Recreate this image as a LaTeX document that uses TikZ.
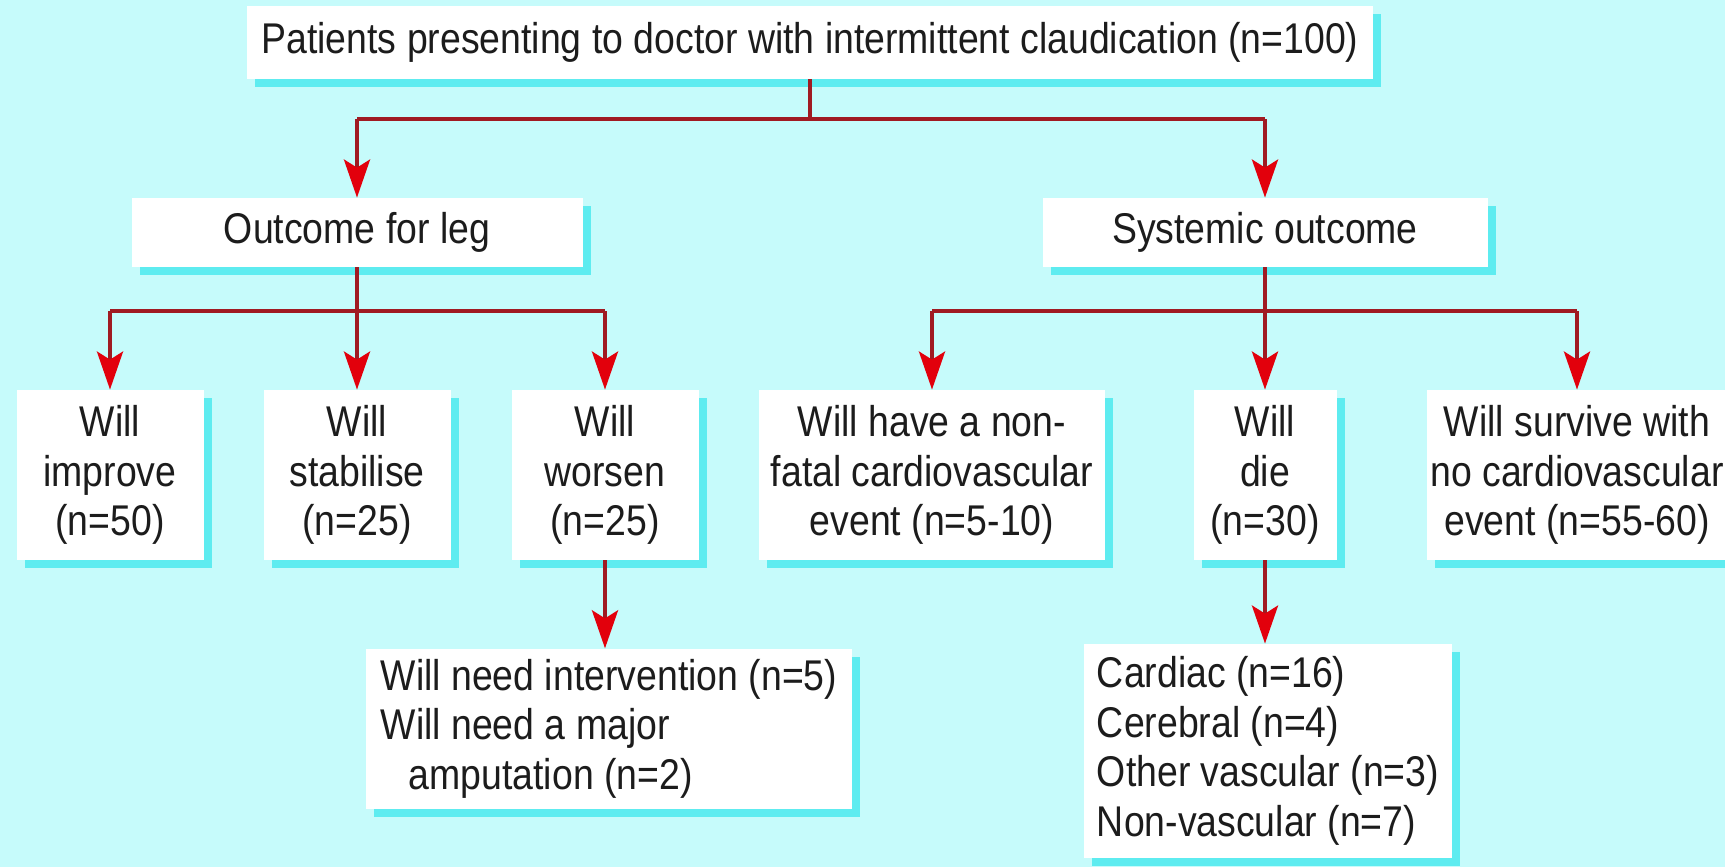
\documentclass[tikz,border=0pt]{standalone}
\usepackage{fontspec}
\setmainfont[FakeStretch=0.87]{Liberation Sans}
\usetikzlibrary{shadows,arrows.meta}
\definecolor{bgc}{RGB}{198,251,251}
\definecolor{shc}{RGB}{94,236,240}
\definecolor{linec}{RGB}{160,26,34}
\definecolor{arrowred}{RGB}{226,0,12}
\definecolor{txt}{RGB}{28,28,28}
\tikzset{
  box/.style={fill=white, draw=none, inner sep=0pt, align=center, text=txt,
    font=\fontsize{21.5}{24.75}\selectfont,
    drop shadow={shadow xshift=4pt, shadow yshift=-4pt, fill=shc, opacity=1}},
  conn/.style={draw=linec, line width=2pt},
  arr/.style={conn, -{Stealth[length=19pt,width=13pt,inset=4pt,color=arrowred]}}
}
\begin{document}
\begin{tikzpicture}[x=0.5pt,y=-0.5pt]
\useasboundingbox (0,0) rectangle (1725,867);
\fill[bgc] (0,0) rectangle (1725,867);

\node[box, minimum width=563pt, minimum height=36.5pt] (top) at (810,42.5)
  {Patients presenting to doctor with intermittent claudication (n=100)};
\node[box, minimum width=225.5pt, minimum height=34.5pt] (leg) at (357,232.5) {Outcome for leg};
\node[box, minimum width=222.5pt, minimum height=34.5pt] (sys) at (1265,232.5) {Systemic outcome};

\node[box, minimum width=93.5pt, minimum height=85pt] (improve) at (110,475) {Will\\improve\\(n=50)};
\node[box, minimum width=93.5pt, minimum height=85pt] (stab) at (357,475) {Will\\stabilise\\(n=25)};
\node[box, minimum width=93.5pt, minimum height=85pt] (worsen) at (605,475) {Will\\worsen\\(n=25)};
\node[box, minimum width=173pt, minimum height=85pt] (nonfatal) at (932,475) {Will have a non-\\fatal cardiovascular\\event (n=5-10)};
\node[box, minimum width=71.5pt, minimum height=85pt] (die) at (1265,475) {Will\\die\\(n=30)};
\node[box, minimum width=150pt, minimum height=85pt] (survive) at (1577,475) {Will survive with\\no cardiovascular\\event (n=55-60)};

\node[box, align=left, minimum width=243pt, minimum height=80pt] (interv) at (609,728.75)
  {Will need intervention (n=5)\\Will need a major\\\hspace*{14pt}amputation (n=2)};
\node[box, align=left, minimum width=184pt, minimum height=107pt] (cause) at (1268,751)
  {Cardiac (n=16)\\Cerebral (n=4)\\Other vascular (n=3)\\Non-vascular (n=7)};

\coordinate (bus1) at (0,119);
\coordinate (bus2) at (0,311);

\draw[conn] (top.south) -- (top.south |- bus1);
\draw[conn] (leg.north |- bus1) -- (sys.north |- bus1);
\draw[arr] (leg.north |- bus1) -- (leg.north);
\draw[arr] (sys.north |- bus1) -- (sys.north);

\draw[conn] (leg.south) -- (leg.south |- bus2);
\draw[conn] (improve.north |- bus2) -- (worsen.north |- bus2);
\draw[arr] (improve.north |- bus2) -- (improve.north);
\draw[arr] (stab.north |- bus2) -- (stab.north);
\draw[arr] (worsen.north |- bus2) -- (worsen.north);

\draw[conn] (sys.south) -- (sys.south |- bus2);
\draw[conn] (nonfatal.north |- bus2) -- (survive.north |- bus2);
\draw[arr] (nonfatal.north |- bus2) -- (nonfatal.north);
\draw[arr] (die.north |- bus2) -- (die.north);
\draw[arr] (survive.north |- bus2) -- (survive.north);

\draw[arr] (worsen.south) -- (worsen.south |- interv.north);
\draw[arr] (die.south) -- (die.south |- cause.north);
\end{tikzpicture}
\end{document}
